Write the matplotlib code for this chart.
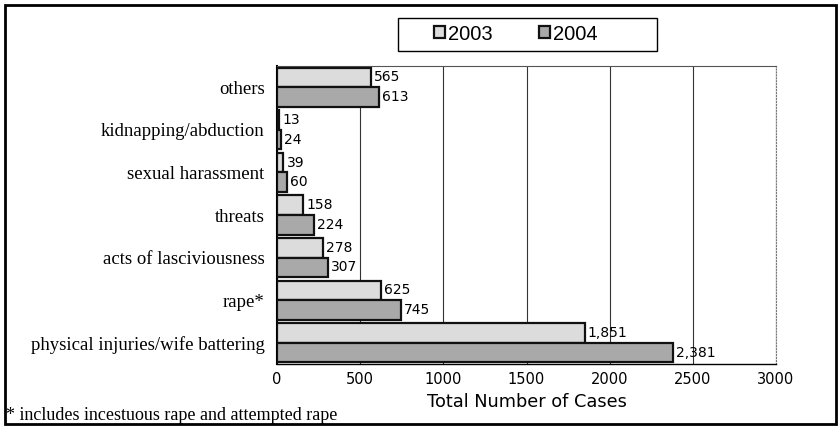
import matplotlib
matplotlib.use("Agg")
import matplotlib.pyplot as plt
import numpy as np
from matplotlib.patches import Rectangle

categories = [
    "physical injuries/wife battering",
    "rape*",
    "acts of lasciviousness",
    "threats",
    "sexual harassment",
    "kidnapping/abduction",
    "others",
]
cases_2003 = [1851, 625, 278, 158, 39, 13, 565]
cases_2004 = [2381, 745, 307, 224, 60, 24, 613]
x_ticks = [0, 500, 1000, 1500, 2000, 2500, 3000]

_C03 = "#dcdcdc"
_C04 = "#a9a9a9"
_EDGE = "#111111"

W, H = 840, 428
fig = plt.figure(figsize=(W / 100, H / 100), dpi=100, facecolor="white")
ax = fig.add_axes([277 / W, 1 - 364 / H, 499 / W, 298 / H])

y = np.arange(len(categories))
h = 0.46
b03 = ax.barh(y + h / 2, cases_2003, height=h, color=_C03, edgecolor=_EDGE,
              linewidth=1.6, label="2003", zorder=3)
b04 = ax.barh(y - h / 2, cases_2004, height=h, color=_C04, edgecolor=_EDGE,
              linewidth=1.6, label="2004", zorder=3)

for bars, vals in ((b03, cases_2003), (b04, cases_2004)):
    for bar, v in zip(bars, vals):
        ax.text(bar.get_width() + 18, bar.get_y() + bar.get_height() / 2,
                f"{v:,}", ha="left", va="center", fontsize=10,
                family="DejaVu Sans", color="black", zorder=4)

ax.set_xlim(0, 3000)
ax.set_ylim(-0.5, len(categories) - 0.5)
ax.set_xticks(x_ticks)
ax.set_xticklabels([str(t) for t in x_ticks], family="DejaVu Sans", fontsize=10.5)
ax.set_yticks(y)
ax.set_yticklabels(categories, family="Liberation Serif", fontsize=13.5)
ax.tick_params(axis="y", length=0, pad=9)
ax.tick_params(axis="x", length=0, pad=6)
ax.xaxis.grid(True, color="#333333", linewidth=0.8, zorder=0)
ax.set_axisbelow(True)

ax.spines["left"].set_color("black")
ax.spines["left"].set_linewidth(1.5)
ax.spines["bottom"].set_color("black")
ax.spines["bottom"].set_linewidth(1.0)
ax.spines["top"].set_color("#555555")
ax.spines["top"].set_linewidth(0.8)
ax.spines["right"].set_color("#777777")
ax.spines["right"].set_linewidth(0.8)
ax.spines["right"].set_linestyle(":")

ax.set_xlabel("Total Number of Cases", family="DejaVu Sans", fontsize=12.8,
              labelpad=4)

# legend box drawn separately (wide side padding)
fig.patches.append(Rectangle((398 / W, 1 - 51 / H), 259 / W, 33 / H,
                             transform=fig.transFigure, fill=False,
                             edgecolor="black", linewidth=1.0))
leg = fig.legend(handles=[b03, b04], labels=["2003", "2004"], ncol=2,
                 loc="center", bbox_to_anchor=(516 / W, 1 - 34 / H),
                 prop={"family": "Liberation Sans", "size": 14.5},
                 frameon=False, handlelength=0.55, handleheight=0.55,
                 handletextpad=0.15, columnspacing=2.3)

fig.text(6 / W, 1 - 420 / H, "* includes incestuous rape and attempted rape",
         family="Liberation Serif", fontsize=13, ha="left", va="baseline")

fig.patches.append(Rectangle((5 / W, 4 / H), 831 / W, 419 / H,
                             transform=fig.transFigure, fill=False,
                             edgecolor="black", linewidth=2.0))

fig.savefig("out.png", dpi=100, facecolor="white")
